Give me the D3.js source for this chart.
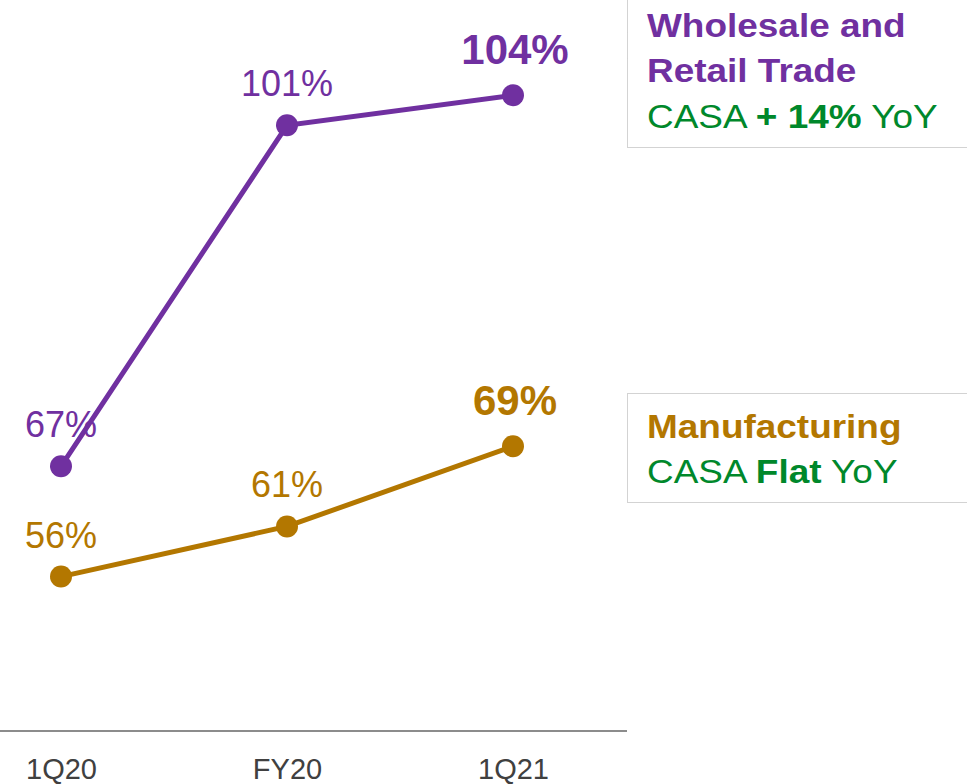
<!DOCTYPE html>
<html>
<head>
<meta charset="utf-8">
<script src="https://cdn.jsdelivr.net/npm/d3@7"></script>
<style>
  html, body { margin: 0; padding: 0; background: #fff; overflow: hidden; }
  svg { display: block; font-family: "Liberation Sans", Arial, sans-serif; }
</style>
</head>
<body>
<svg id="chart" width="967" height="784"></svg>
<script>
// Periods on the x axis
const periods = ["1Q20", "FY20", "1Q21"];
// CASA ratio by segment (%)
const wholesaleRetail = [67, 101, 104];
const manufacturing = [56, 61, 69];

const purple = "#7030A0";
const gold = "#B37700";
const green = "#00882B";

const svg = d3.select("#chart");

const x = d3.scalePoint().domain(periods).range([61, 513]);
const y = d3.scaleLinear().domain([40.5, 113.5]).range([732, 0]);

// Baseline and period labels
svg.append("line")
  .attr("x1", 0).attr("x2", 627)
  .attr("y1", 731).attr("y2", 731)
  .attr("stroke", "#8c8c8c").attr("stroke-width", 2);

const axis = svg.append("g")
  .attr("transform", "translate(0,731)")
  .call(d3.axisBottom(x).tickSize(0).tickPadding(0));
axis.select(".domain").remove();
axis.selectAll("text")
  .attr("dy", null)
  .attr("y", 48)
  .attr("fill", "#404040")
  .style("font-size", "29px")
  .style("font-family", "\"Liberation Sans\", Arial, sans-serif");

const series = [
  { values: wholesaleRetail, color: purple },
  { values: manufacturing, color: gold }
];

const line = d3.line().x((d, i) => x(periods[i])).y(d => y(d));

series.forEach(s => {
  const last = s.values.length - 1;
  const g = svg.append("g");
  g.append("path")
    .datum(s.values)
    .attr("d", line)
    .attr("fill", "none")
    .attr("stroke", s.color)
    .attr("stroke-width", 5);
  g.selectAll("circle")
    .data(s.values)
    .join("circle")
    .attr("cx", (d, i) => x(periods[i]))
    .attr("cy", d => y(d))
    .attr("r", 11)
    .attr("fill", s.color);
  // Value labels; the latest period is emphasised
  g.selectAll("text")
    .data(s.values)
    .join("text")
    .attr("x", (d, i) => x(periods[i]) + (i === last ? 2 : 0))
    .attr("y", (d, i) => y(d) - (i === last ? 31 : 29))
    .attr("text-anchor", "middle")
    .attr("fill", s.color)
    .style("font-size", (d, i) => i === last ? "42px" : "36px")
    .style("font-weight", (d, i) => i === last ? "bold" : "normal")
    .text(d => d + "%");
});

// Segment callout boxes
function callout(top, height) {
  svg.append("rect")
    .attr("x", 627.5).attr("y", top)
    .attr("width", 360).attr("height", height)
    .attr("fill", "none")
    .attr("stroke", "#a6a6a6")
    .attr("stroke-width", 1)
    .attr("stroke-dasharray", "1,1");
}
callout(-10.5, 158);
callout(393.5, 109);

const notes = svg.append("g").attr("transform", "translate(647,0) scale(1.12,1)");
function textLine(yPos, parts) {
  const t = notes.append("text").attr("x", 0).attr("y", yPos).style("font-size", "33px");
  parts.forEach(p => {
    t.append("tspan")
      .attr("fill", p.color)
      .style("font-weight", p.bold ? "bold" : "normal")
      .text(p.text);
  });
}
textLine(37, [{ text: "Wholesale and", color: purple, bold: true }]);
textLine(82, [{ text: "Retail Trade", color: purple, bold: true }]);
textLine(128, [
  { text: "CASA ", color: green },
  { text: "+ 14%", color: green, bold: true },
  { text: " YoY", color: green }
]);
textLine(438, [{ text: "Manufacturing", color: gold, bold: true }]);
textLine(483, [
  { text: "CASA ", color: green },
  { text: "Flat", color: green, bold: true },
  { text: " YoY", color: green }
]);
</script>
</body>
</html>
